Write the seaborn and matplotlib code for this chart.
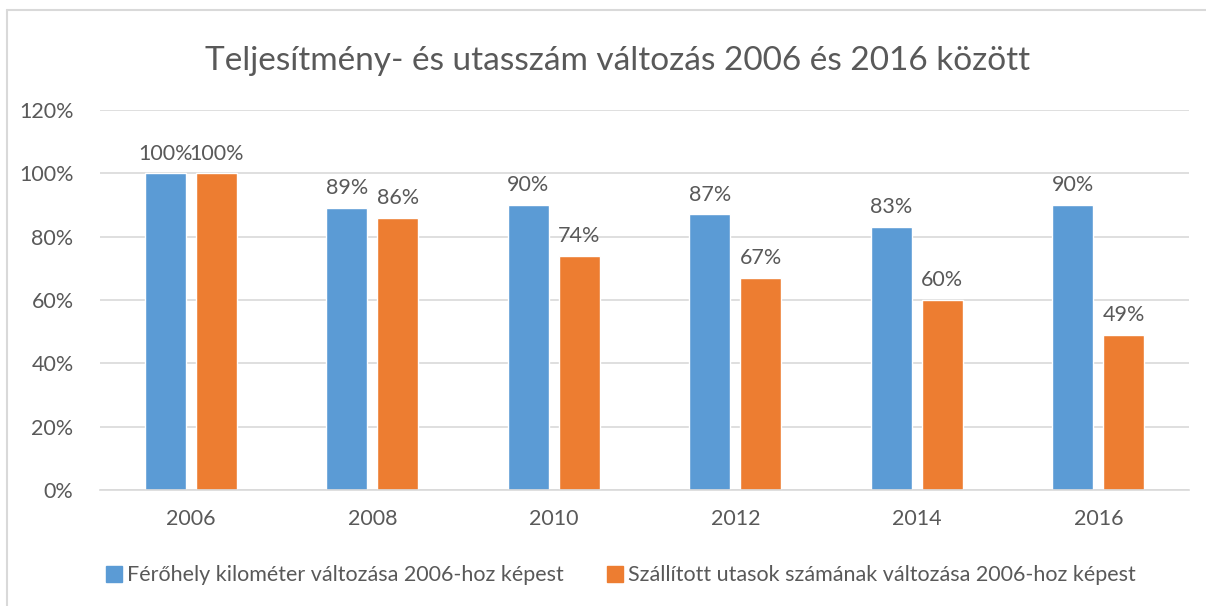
import numpy as np
import pandas as pd
import seaborn as sns
import matplotlib.pyplot as plt
from matplotlib.lines import Line2D
from matplotlib.ticker import PercentFormatter

sns.set_theme(style="white")
plt.rcParams['font.family'] = ['Lato', 'DejaVu Sans']

# adatok
years = ['2006', '2008', '2010', '2012', '2014', '2016']
ferohely = [100, 89, 90, 87, 83, 90]
utasok = [100, 86, 74, 67, 60, 49]
series_names = ['Férőhely kilométer változása 2006-hoz képest',
                'Szállított utasok számának változása 2006-hoz képest']
colors = ['#5B9BD5', '#ED7D31']
text_color = '#595959'

df = pd.DataFrame({
    'ev': years * 2,
    'ertek': ferohely + utasok,
    'sorozat': [series_names[0]] * len(years) + [series_names[1]] * len(years),
})

fig = plt.figure(figsize=(12.06, 6.06), dpi=100)
ax = fig.add_axes([0.0829, 0.1914, 0.9031, 0.6271])

sns.barplot(data=df, x='ev', y='ertek', hue='sorozat', palette=colors,
            width=0.562, gap=0.196, ax=ax, legend=False, saturation=1)

for cont in ax.containers:
    ax.bar_label(cont, labels=[f'{v:.0f}%' for v in cont.datavalues],
                 padding=7, fontsize=15.5, color=text_color)

ax.set_ylim(0, 120)
ax.set_yticks(range(0, 121, 20))
ax.yaxis.set_major_formatter(PercentFormatter(decimals=0))
ax.grid(axis='y', color='#D9D9D9', linewidth=1.2)
ax.set_axisbelow(True)
for s in ['top', 'right', 'left']:
    ax.spines[s].set_visible(False)
ax.spines['bottom'].set_color('#D9D9D9')
ax.spines['bottom'].set_linewidth(1.2)
ax.tick_params(axis='both', length=0, labelsize=15.5, labelcolor=text_color, pad=14)
ax.tick_params(axis='y', pad=19)
ax.set_xlabel('')
ax.set_ylabel('')

fig.text(0.512, 0.9, 'Teljesítmény- és utasszám változás 2006 és 2016 között',
         ha='center', va='center', fontsize=24, color=text_color)

handles = [Line2D([0], [0], marker='s', linestyle='', markersize=11,
                  markerfacecolor=c, markeredgecolor=c) for c in colors]
fig.legend(handles, series_names, loc='center', bbox_to_anchor=(0.513, 0.051),
           ncol=2, frameon=False, fontsize=15.5, labelcolor=text_color,
           handletextpad=0.0, handlelength=1.2, columnspacing=1.8)

# chart keret (felső és bal él)
fig.add_artist(Line2D([0.0058, 1.0], [0.9835, 0.9835], color='#D9D9D9', linewidth=1.5))
fig.add_artist(Line2D([0.0058, 0.0058], [0.0, 0.9835], color='#D9D9D9', linewidth=1.5))

fig.savefig('out.png', dpi=100)
